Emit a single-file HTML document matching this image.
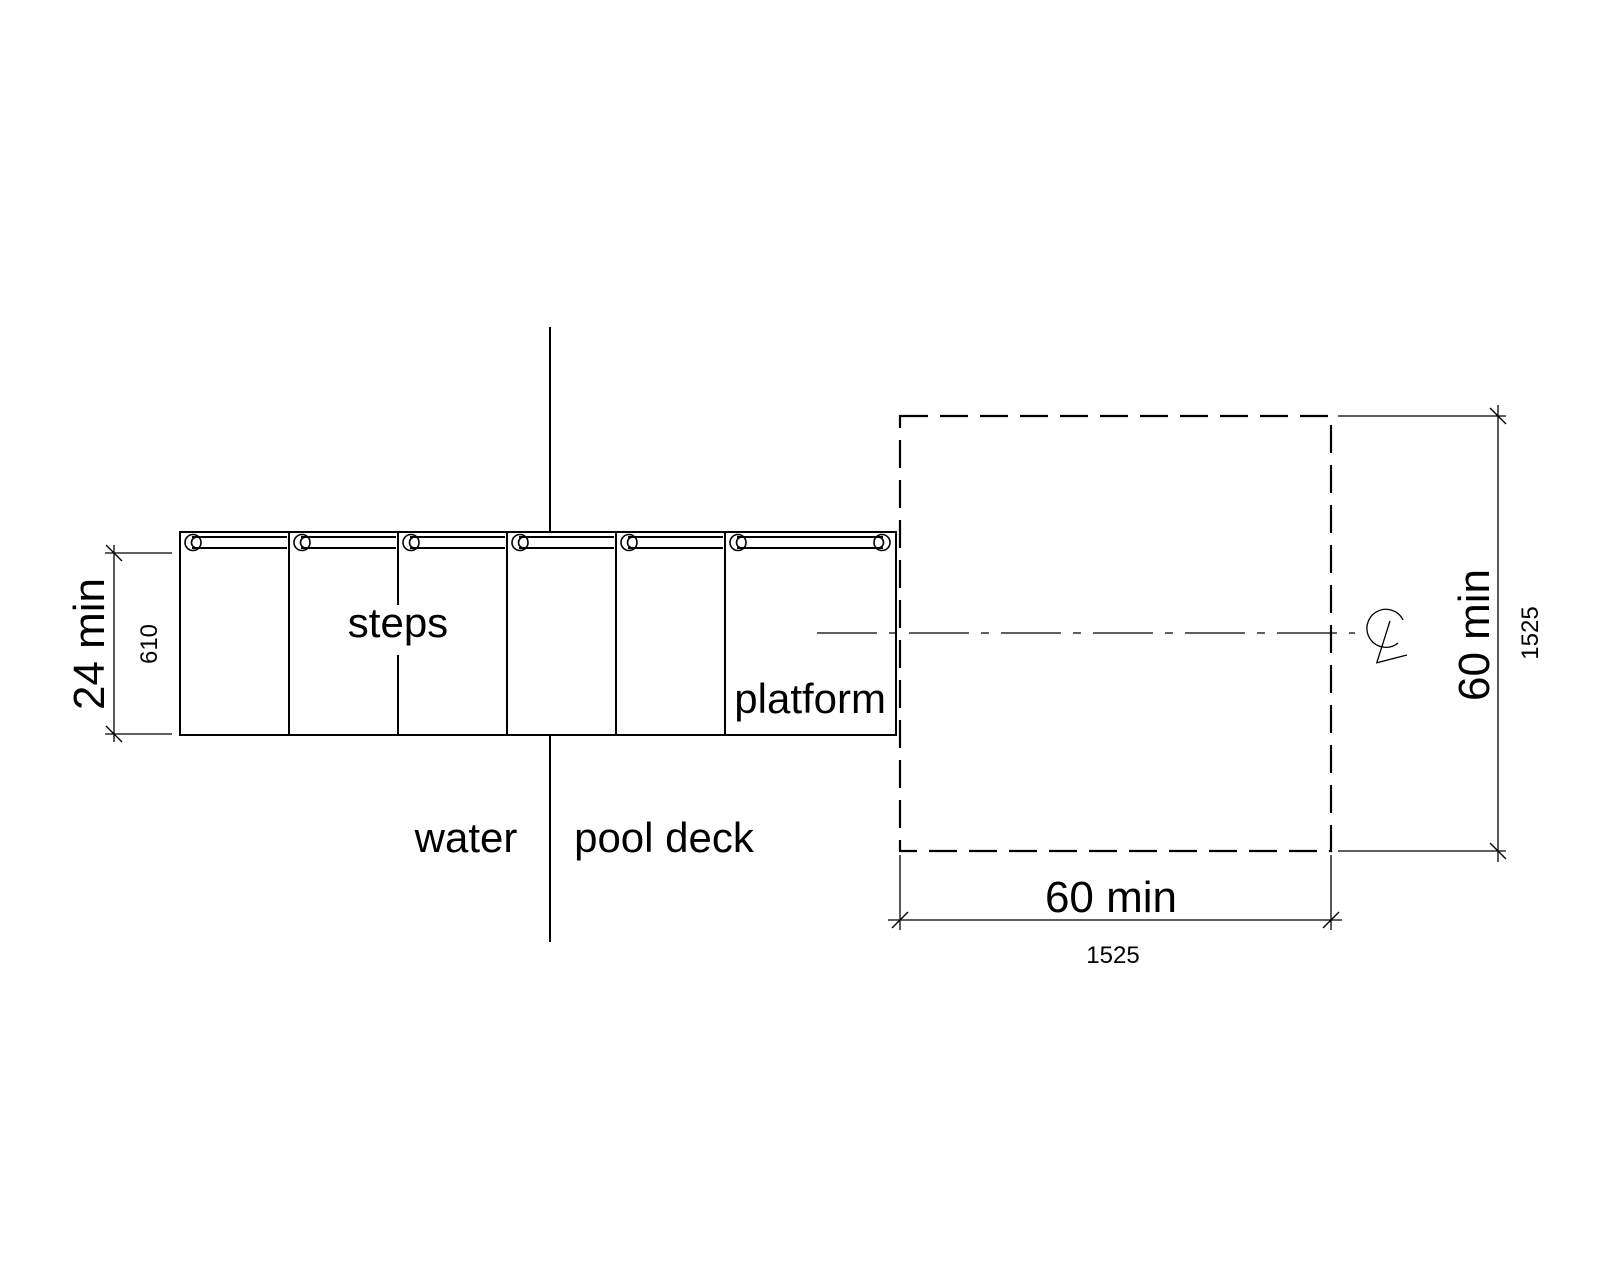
<!DOCTYPE html>
<html><head><meta charset="utf-8"><style>html,body{margin:0;padding:0;background:#fff}svg{display:block}text{font-family:"Liberation Sans",Arial,sans-serif;fill:#000}</style></head>
<body>
<svg width="1600" height="1280" viewBox="0 0 1600 1280" xmlns="http://www.w3.org/2000/svg">
<g stroke="#000" fill="none">
<line x1="550" y1="327" x2="550" y2="532" stroke-width="2"/>
<line x1="550" y1="735" x2="550" y2="942" stroke-width="2"/>
<rect x="180" y="532" width="716" height="203" stroke-width="2"/>
<g stroke-width="2">
<line x1="289" y1="532" x2="289" y2="735"/>
<line x1="398" y1="532" x2="398" y2="605"/>
<line x1="398" y1="655" x2="398" y2="735"/>
<line x1="507" y1="532" x2="507" y2="735"/>
<line x1="616" y1="532" x2="616" y2="735"/>
<line x1="725" y1="532" x2="725" y2="735"/>
</g>
<g stroke-width="2">
<line x1="192" y1="537" x2="287" y2="537"/><line x1="192" y1="548" x2="287" y2="548"/>
<line x1="301" y1="537" x2="396" y2="537"/><line x1="301" y1="548" x2="396" y2="548"/>
<line x1="410" y1="537" x2="505" y2="537"/><line x1="410" y1="548" x2="505" y2="548"/>
<line x1="519" y1="537" x2="614" y2="537"/><line x1="519" y1="548" x2="614" y2="548"/>
<line x1="628" y1="537" x2="723" y2="537"/><line x1="628" y1="548" x2="723" y2="548"/>
<line x1="737" y1="537" x2="883" y2="537"/><line x1="737" y1="548" x2="883" y2="548"/>
</g>
<g stroke-width="1.6">
<circle cx="193" cy="542.5" r="8"/><path d="M197 537 A5.5 5.5 0 1 0 197 548"/>
<circle cx="302" cy="542.5" r="8"/><path d="M306 537 A5.5 5.5 0 1 0 306 548"/>
<circle cx="411" cy="542.5" r="8"/><path d="M415 537 A5.5 5.5 0 1 0 415 548"/>
<circle cx="520" cy="542.5" r="8"/><path d="M524 537 A5.5 5.5 0 1 0 524 548"/>
<circle cx="629" cy="542.5" r="8"/><path d="M633 537 A5.5 5.5 0 1 0 633 548"/>
<circle cx="738" cy="542.5" r="8"/><path d="M742 537 A5.5 5.5 0 1 0 742 548"/>
<circle cx="882" cy="542.5" r="8"/><path d="M878 537 A5.5 5.5 0 1 1 878 548"/>
</g>
<rect x="900" y="416" width="431" height="435" stroke-width="2.2" stroke-dasharray="28,12"/>
<line x1="817" y1="633" x2="1355" y2="633" stroke-width="1.3" stroke-dasharray="60,12,8,12"/>
<path d="M1403 620 A19 19 0 1 0 1398 643" stroke-width="1.3"/>
<line x1="1390" y1="621" x2="1377" y2="662" stroke-width="1.3"/>
<line x1="1376" y1="663" x2="1407" y2="655" stroke-width="1.3"/>
<g stroke-width="1.3">
<line x1="1338" y1="416" x2="1506" y2="416"/>
<line x1="1338" y1="851" x2="1506" y2="851"/>
<line x1="1498" y1="405" x2="1498" y2="862"/>
<line x1="1490" y1="408" x2="1506" y2="424"/>
<line x1="1490" y1="843" x2="1506" y2="859"/>
<line x1="900" y1="855" x2="900" y2="930"/>
<line x1="1331" y1="855" x2="1331" y2="930"/>
<line x1="888" y1="920" x2="1342" y2="920"/>
<line x1="892" y1="928" x2="908" y2="912"/>
<line x1="1323" y1="928" x2="1339" y2="912"/>
<line x1="105" y1="553" x2="172" y2="553"/>
<line x1="105" y1="734" x2="172" y2="734"/>
<line x1="114" y1="545" x2="114" y2="742"/>
<line x1="106" y1="545" x2="122" y2="561"/>
<line x1="106" y1="726" x2="122" y2="742"/>
</g>
</g>
<text x="398" y="637" font-size="42" text-anchor="middle">steps</text>
<text x="886" y="713" font-size="42" text-anchor="end">platform</text>
<text x="466" y="852" font-size="42" text-anchor="middle">water</text>
<text x="664" y="852" font-size="42" text-anchor="middle">pool deck</text>
<text x="1111" y="912" font-size="44" text-anchor="middle">60 min</text>
<text x="1113" y="963" font-size="24" text-anchor="middle">1525</text>
<text transform="translate(1489,635) rotate(-90)" font-size="44" text-anchor="middle">60 min</text>
<text transform="translate(1538,633) rotate(-90)" font-size="24" text-anchor="middle">1525</text>
<text transform="translate(104,644) rotate(-90)" font-size="44" text-anchor="middle">24 min</text>
<text transform="translate(157,644) rotate(-90)" font-size="24" text-anchor="middle">610</text>
</svg>
</body></html>
